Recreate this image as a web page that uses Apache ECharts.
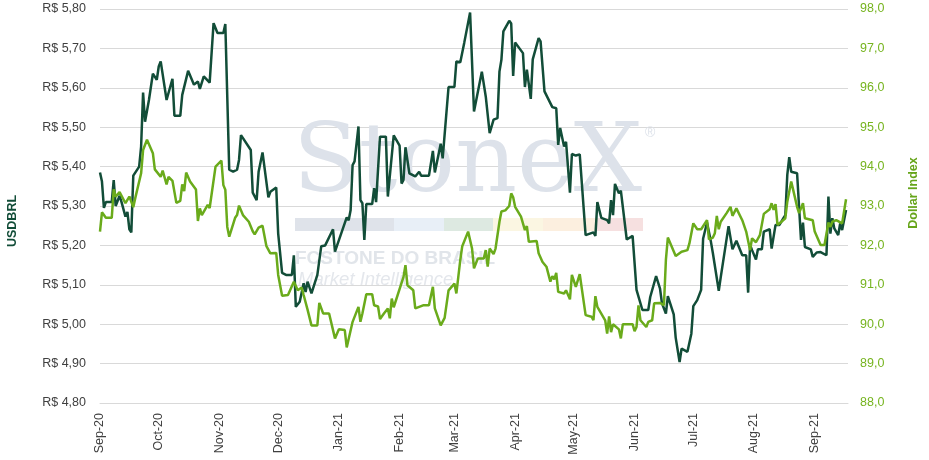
<!DOCTYPE html>
<html>
<head>
<meta charset="utf-8">
<script src="https://cdn.jsdelivr.net/npm/echarts@6/dist/echarts.min.js"></script>
<style>
  html, body { margin: 0; padding: 0; background: #fff; }
  #chart { width: 929px; height: 460px; }
</style>
</head>
<body>
<div id="chart"></div>
<script>
// days counted from 2020-09-01
const monthDays = [0, 30, 61, 91, 122, 153, 181, 212, 242, 273, 303, 334, 365];
const monthLabels = ['Sep-20', 'Oct-20', 'Nov-20', 'Dec-20', 'Jan-21', 'Feb-21', 'Mar-21',
    'Apr-21', 'May-21', 'Jun-21', 'Jul-21', 'Aug-21', 'Sep-21'];

// USDBRL (left axis)
const brlDays = [
    0, 1, 2, 3, 6, 7, 8, 10, 11, 13,
    14, 15, 16, 17, 20, 21, 22, 23, 25, 27,
    28, 29, 30, 31, 34, 37, 38, 41, 42, 45,
    48, 50, 51, 53, 56, 58, 59, 60, 63, 64,
    66, 68, 70, 71, 72, 77, 78, 79, 80, 81,
    83, 86, 87, 90, 91, 93, 95, 98, 99, 100,
    102, 104, 105, 106, 108, 111, 113, 115, 119, 120,
    121, 126, 127, 128, 129, 130, 132, 133, 134, 135,
    136, 139, 140, 141, 143, 146, 147, 150, 153, 154,
    155, 156, 158, 161, 163, 164, 168, 170, 171, 174,
    175, 178, 181, 182, 184, 186, 189, 191, 195, 197,
    199, 201, 203, 204, 205, 206, 209, 210, 211, 212,
    216, 217, 218, 220, 221, 224, 225, 227, 231, 233,
    234, 235, 237, 238, 240, 241, 243, 245, 248, 252,
    253, 254, 255, 256, 259, 260, 261, 262, 263, 265,
    266, 267, 269, 272, 274, 275, 277, 280, 281, 282,
    284, 286, 287, 289, 290, 293, 294, 295, 296, 297,
    300, 302, 303, 305, 307, 308, 310, 312, 313, 314,
    316, 317, 318, 321, 323, 325, 326, 328, 330, 331,
    332, 333, 335, 336, 338, 339, 342, 343, 345, 347,
    349, 350, 351, 352, 353, 356, 358, 359, 360, 363,
    364, 366, 368, 371, 372, 373, 374, 375, 377, 378,
    379, 381
];
const brlValues = [
    5.385, 5.362, 5.295, 5.31, 5.31, 5.366, 5.30, 5.326, 5.31, 5.273,
    5.285, 5.241, 5.233, 5.377, 5.40, 5.451, 5.588, 5.514, 5.569, 5.636,
    5.641, 5.62, 5.654, 5.667, 5.569, 5.623, 5.529, 5.529, 5.582, 5.643,
    5.608, 5.616, 5.597, 5.629, 5.613, 5.764, 5.764, 5.739, 5.739, 5.762,
    5.392, 5.387, 5.392, 5.417, 5.48, 5.442, 5.334, 5.334, 5.315, 5.387,
    5.436, 5.322, 5.336, 5.347, 5.23, 5.13, 5.125, 5.125, 5.175, 5.044,
    5.057, 5.104, 5.082, 5.108, 5.078, 5.125, 5.198, 5.20, 5.241, 5.184,
    5.184, 5.271, 5.264, 5.29, 5.404, 5.413, 5.502, 5.315, 5.307, 5.214,
    5.305, 5.305, 5.345, 5.31, 5.476, 5.476, 5.324, 5.479, 5.453, 5.357,
    5.366, 5.449, 5.383, 5.375, 5.387, 5.377, 5.377, 5.44, 5.385, 5.458,
    5.421, 5.602, 5.602, 5.667, 5.665, 5.714, 5.791, 5.54, 5.641, 5.578,
    5.485, 5.519, 5.523, 5.641, 5.671, 5.743, 5.77, 5.763, 5.63, 5.715,
    5.688, 5.602, 5.646, 5.572, 5.672, 5.726, 5.718, 5.591, 5.551, 5.548,
    5.455, 5.498, 5.451, 5.463, 5.334, 5.432, 5.428, 5.431, 5.226, 5.233,
    5.224, 5.31, 5.31, 5.27, 5.264, 5.256, 5.315, 5.277, 5.356, 5.332,
    5.339, 5.334, 5.215, 5.224, 5.087, 5.085, 5.036, 5.036, 5.069, 5.07,
    5.122, 5.09, 5.053, 5.027, 5.071, 5.025, 4.966, 4.965, 4.904, 4.938,
    4.93, 4.976, 5.046, 5.061, 5.087, 5.217, 5.258, 5.209, 5.18, 5.18,
    5.085, 5.119, 5.119, 5.249, 5.19, 5.212, 5.21, 5.175, 5.175, 5.08,
    5.201, 5.188, 5.164, 5.19, 5.19, 5.235, 5.241, 5.192, 5.252, 5.252,
    5.269, 5.277, 5.379, 5.424, 5.387, 5.383, 5.214, 5.258, 5.196, 5.19,
    5.171, 5.182, 5.183, 5.175, 5.324, 5.23, 5.269, 5.243, 5.226, 5.256,
    5.239, 5.29
];

// Dollar Index (right axis)
const dxyDays = [
    0, 1, 3, 6, 7, 8, 10, 13, 14, 15,
    17, 18, 21, 22, 23, 24, 27, 28, 29, 31,
    32, 34, 35, 37, 39, 41, 42, 43, 44, 46,
    49, 50, 51, 52, 55, 56, 59, 62, 63, 64,
    65, 66, 69, 70, 71, 73, 76, 78, 79, 81,
    83, 85, 87, 90, 91, 93, 96, 99, 101, 103,
    104, 106, 108, 111, 112, 114, 117, 120, 122, 125,
    126, 129, 132, 133, 134, 135, 136, 139, 140, 142,
    143, 145, 147, 148, 149, 150, 155, 156, 157, 160,
    161, 162, 165, 168, 170, 171, 174, 176, 177, 178,
    181, 182, 184, 185, 188, 190, 191, 193, 196, 197,
    198, 199, 201, 202, 204, 205, 207, 209, 210, 211,
    212, 215, 217, 218, 219, 220, 223, 224, 226, 228,
    230, 231, 232, 233, 234, 237, 238, 240, 241, 243,
    245, 246, 248, 251, 252, 253, 254, 256, 258, 259,
    260, 261, 262, 265, 266, 267, 272, 273, 274, 275,
    276, 279, 280, 282, 283, 286, 288, 289, 290, 294,
    297, 300, 301, 303, 304, 305, 307, 310, 311, 313,
    314, 315, 316, 317, 320, 322, 323, 325, 328, 330,
    331, 332, 333, 335, 337, 339, 342, 343, 344, 345,
    346, 348, 350, 351, 353, 354, 356, 357, 359, 360,
    361, 364, 365, 368, 370, 372, 373, 374, 376, 377,
    379, 381
];
const dxyValues = [
    92.35, 92.84, 92.70, 92.70, 93.42, 93.24, 93.35, 93.07, 93.09, 93.24,
    92.97, 93.20, 93.83, 94.42, 94.40, 94.68, 94.34, 93.93, 93.93, 93.74,
    93.90, 93.55, 93.74, 93.64, 93.08, 93.13, 93.55, 93.38, 93.85, 93.62,
    93.42, 92.62, 92.94, 92.77, 93.03, 92.95, 94.00, 94.15, 93.53, 93.41,
    92.47, 92.22, 92.70, 92.77, 93.01, 92.77, 92.60, 92.36, 92.28, 92.45,
    92.50, 91.98, 91.80, 91.81, 91.25, 90.72, 90.74, 91.08, 90.86, 90.93,
    90.74, 90.37, 89.97, 89.97, 90.54, 90.27, 90.27, 89.64, 89.87, 89.85,
    89.41, 90.06, 90.44, 90.06, 90.27, 90.24, 90.76, 90.76, 90.48, 90.45,
    90.13, 90.27, 90.40, 90.15, 90.65, 90.43, 91.20, 91.50, 90.99, 90.86,
    90.40, 90.37, 90.48, 90.48, 90.95, 90.40, 89.97, 90.16, 90.16, 90.86,
    91.03, 90.78, 91.63, 91.98, 92.35, 91.92, 91.42, 91.67, 91.67, 91.88,
    91.46, 91.92, 91.78, 91.92, 92.60, 92.86, 92.89, 93.00, 93.32, 93.22,
    92.98, 92.73, 92.39, 92.49, 92.09, 92.11, 92.11, 91.80, 91.58, 91.46,
    91.08, 91.22, 91.14, 91.30, 90.82, 90.78, 90.86, 90.63, 91.25, 90.95,
    91.27, 91.27, 90.23, 90.19, 90.10, 90.71, 90.44, 90.27, 90.10, 89.76,
    90.20, 89.80, 90.00, 89.87, 89.64, 90.00, 90.00, 89.82, 89.93, 90.48,
    90.10, 89.93, 90.06, 90.10, 90.53, 90.54, 90.48, 91.63, 92.20, 91.73,
    91.84, 91.88, 92.05, 92.56, 92.56, 92.41, 92.41, 92.64, 92.15, 92.20,
    92.31, 92.75, 92.41, 92.60, 92.82, 92.98, 92.75, 92.94, 92.64, 92.35,
    92.33, 91.88, 92.18, 92.08, 92.26, 92.80, 92.92, 93.07, 92.90, 93.05,
    92.52, 92.60, 92.69, 93.11, 93.62, 93.41, 92.98, 92.82, 93.07, 92.69,
    92.66, 92.64, 92.35, 92.01, 92.01, 92.58, 92.47, 92.60, 92.64, 92.64,
    92.56, 93.17
];

const zip = (xs, ys) => xs.map((x, i) => [x, ys[i]]);
const comma = (v, d) => v.toFixed(d).replace('.', ',');

const font = 'Liberation Sans';
const darkGreen = '#124d38';
const lightGreen = '#6aab1b';
const wm = '#dde2ea';

// StoneX watermark behind the lines
const wmBars = [
    [295, 99, '#dfe3ea'], [394, 50, '#e8eff7'], [444, 49, '#dde9e1'],
    [493, 50, '#fbf6e2'], [543, 54, '#fcefdf'], [597, 46, '#f6e0e0']
];
const graphic = [
    { type: 'text', z: 1, x: 293, y: 166, style: { text: 'StoneX', fill: wm, font: '96px "DejaVu Serif"', verticalAlign: 'middle' } },
    { type: 'text', z: 1, x: 645, y: 133, style: { text: '®', fill: wm, font: '14px ' + font, verticalAlign: 'middle' } },
    { type: 'text', z: 1, x: 295, y: 259, style: { text: 'FCSTONE DO BRASIL', fill: '#e1e5ea', font: 'bold 19px ' + font, verticalAlign: 'middle' } },
    { type: 'text', z: 1, x: 298, y: 280, style: { text: 'Market Intelligence', fill: '#e4e7ec', font: 'italic 18.5px ' + font, verticalAlign: 'middle' } },
    { type: 'text', x: 13, y: 221, rotation: Math.PI / 2, style: { text: 'USDBRL', fill: darkGreen, font: 'bold 12.5px ' + font, align: 'center', verticalAlign: 'middle' } },
    { type: 'text', x: 914, y: 193, rotation: Math.PI / 2, style: { text: 'Dollar Index', fill: '#66a51a', font: 'bold 12.5px ' + font, align: 'center', verticalAlign: 'middle' } }
].concat(wmBars.map(b => ({
    type: 'rect', z: 1, shape: { x: b[0], y: 218, width: b[1], height: 13 }, style: { fill: b[2] }
})));

const chart = echarts.init(document.getElementById('chart'));
chart.setOption({
    animation: false,
    graphic: graphic,
    grid: { left: 100, right: 81, top: 9, bottom: 57 },
    xAxis: {
        type: 'value',
        min: 0,
        max: 382,
        splitLine: { show: false },
        axisLine: { show: true, lineStyle: { color: '#d9d9d9' } },
        axisTick: { show: false },
        axisLabel: {
            customValues: monthDays,
            rotate: 90,
            margin: 10,
            color: '#404040',
            fontFamily: font,
            fontSize: 12.5,
            formatter: v => monthLabels[monthDays.indexOf(v)] || ''
        }
    },
    yAxis: [
        {
            type: 'value',
            min: 4.8,
            max: 5.8,
            interval: 0.1,
            axisLine: { show: false },
            axisTick: { show: false },
            splitLine: { lineStyle: { color: '#d9d9d9' } },
            axisLabel: {
                margin: 14,
                color: '#404040',
                fontFamily: font,
                fontSize: 12.5,
                formatter: v => 'R$ ' + comma(v, 2)
            }
        },
        {
            type: 'value',
            min: 88,
            max: 98,
            interval: 1,
            axisLine: { show: false },
            axisTick: { show: false },
            splitLine: { show: false },
            axisLabel: {
                margin: 12,
                color: '#76b41f',
                fontFamily: font,
                fontSize: 12.5,
                formatter: v => comma(v, 1)
            }
        }
    ],
    series: [
        {
            name: 'USDBRL',
            type: 'line',
            yAxisIndex: 0,
            data: zip(brlDays, brlValues),
            showSymbol: false,
            lineStyle: { color: darkGreen, width: 2.5 },
            itemStyle: { color: darkGreen }
        },
        {
            name: 'Dollar Index',
            type: 'line',
            yAxisIndex: 1,
            data: zip(dxyDays, dxyValues),
            showSymbol: false,
            lineStyle: { color: lightGreen, width: 2.5 },
            itemStyle: { color: lightGreen }
        }
    ]
});
</script>
</body>
</html>
